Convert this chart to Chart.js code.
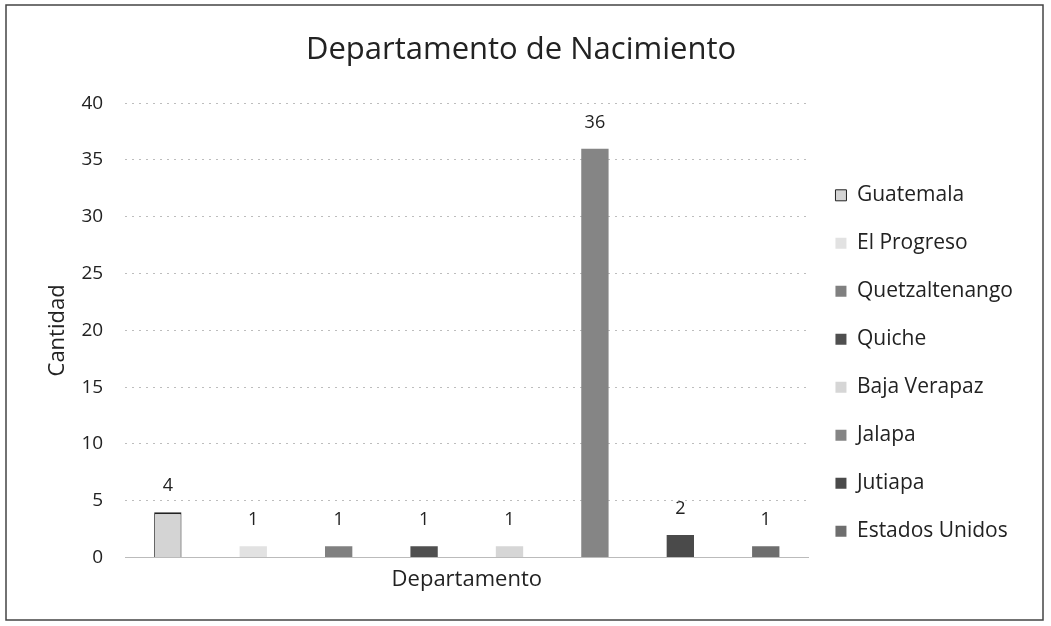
<!DOCTYPE html>
<html><head><meta charset="utf-8">
<script src="https://cdn.jsdelivr.net/npm/chart.js@4.4.1/dist/chart.umd.min.js"></script>
<style>html,body{margin:0;padding:0;background:#fff;}#wrap{position:absolute;left:0;top:0;width:1051px;height:626px;}</style>
</head><body><div id="wrap"><canvas id="c" width="1051" height="626"></canvas></div>
<script>
const categories = [''];
const departments = ['Guatemala','El Progreso','Quetzaltenango','Quiche','Baja Verapaz','Jalapa','Jutiapa','Estados Unidos'];
const counts = [4,1,1,1,1,36,2,1];
const colors = ['#d4d4d4','#e2e2e2','#808080','#4f4f4f','#d6d6d6','#858585','#4a4a4a','#6e6e6e'];
const yTicks = [0,5,10,15,20,25,30,35,40];
const FONT = "'Open Sans', sans-serif";

const datasets = departments.map((d,i)=>({
  label: d, data: [counts[i]], backgroundColor: colors[i],
  borderColor: i===0 ? '#222' : colors[i], borderWidth: i===0 ? {top:2,left:1,right:1,bottom:0} : 0,
  categoryPercentage: 1.0, barPercentage: 0.32
}));

const frame = { id:'frame', afterDraw(ch){ const c=ch.ctx; c.save(); c.strokeStyle='#444'; c.lineWidth=1.5; c.strokeRect(6,5,1037,615); c.restore(); } };
const labels = { id:'labels', afterDatasetsDraw(ch){ const c=ch.ctx; c.save(); c.font="18px "+FONT; c.fillStyle='#222'; c.textAlign='center'; c.textBaseline='middle';
  ch.data.datasets.forEach((ds,i)=>{ const m=ch.getDatasetMeta(i); m.data.forEach((el,j)=>{ c.fillText(String(ds.data[j]), el.x, el.y-26); }); }); c.restore(); } };

new Chart(document.getElementById('c'), {
  type:'bar',
  data:{ labels: categories, datasets },
  options:{
    responsive:false, animation:false,
    layout:{ padding:{ left:19, right:28, top:0, bottom:29 } },
    plugins:{
      title:{ display:true, text:'Departamento de Nacimiento', color:'#222', font:{ family:FONT, size:31, weight:'normal' }, padding:{ top:32, bottom:34 } },
      legend:{ position:'right', align:'start',
        title:{ display:true, text:' ', font:{ size:4 }, padding:{ top:0, bottom:153 } },
        labels:{ color:'#222', font:{ family:FONT, size:21 }, boxWidth:11, boxHeight:11, padding:27 } },
      tooltip:{ enabled:false }
    },
    scales:{
      x:{ grid:{ display:false }, border:{ display:true, color:'#bbb', dash:[2,3] }, ticks:{ display:false },
          title:{ display:true, text:'Departamento', color:'#222', font:{ family:FONT, size:22 }, padding:{ top:1 } } },
      y:{ min:0, max:40, afterBuildTicks(ax){ ax.ticks = yTicks.map(v=>({value:v})); },
          grid:{ color:'#bdbdbd', tickLength:0, drawTicks:false }, border:{ display:false, dash:[2,5] },
          ticks:{ color:'#222', font:{ family:FONT, size:19 }, padding:22 },
          title:{ display:true, text:'Cantidad', color:'#222', font:{ family:FONT, size:22 }, padding:{ top:26, bottom:-12 } } }
    }
  },
  plugins:[frame, labels]
});
</script></body></html>
